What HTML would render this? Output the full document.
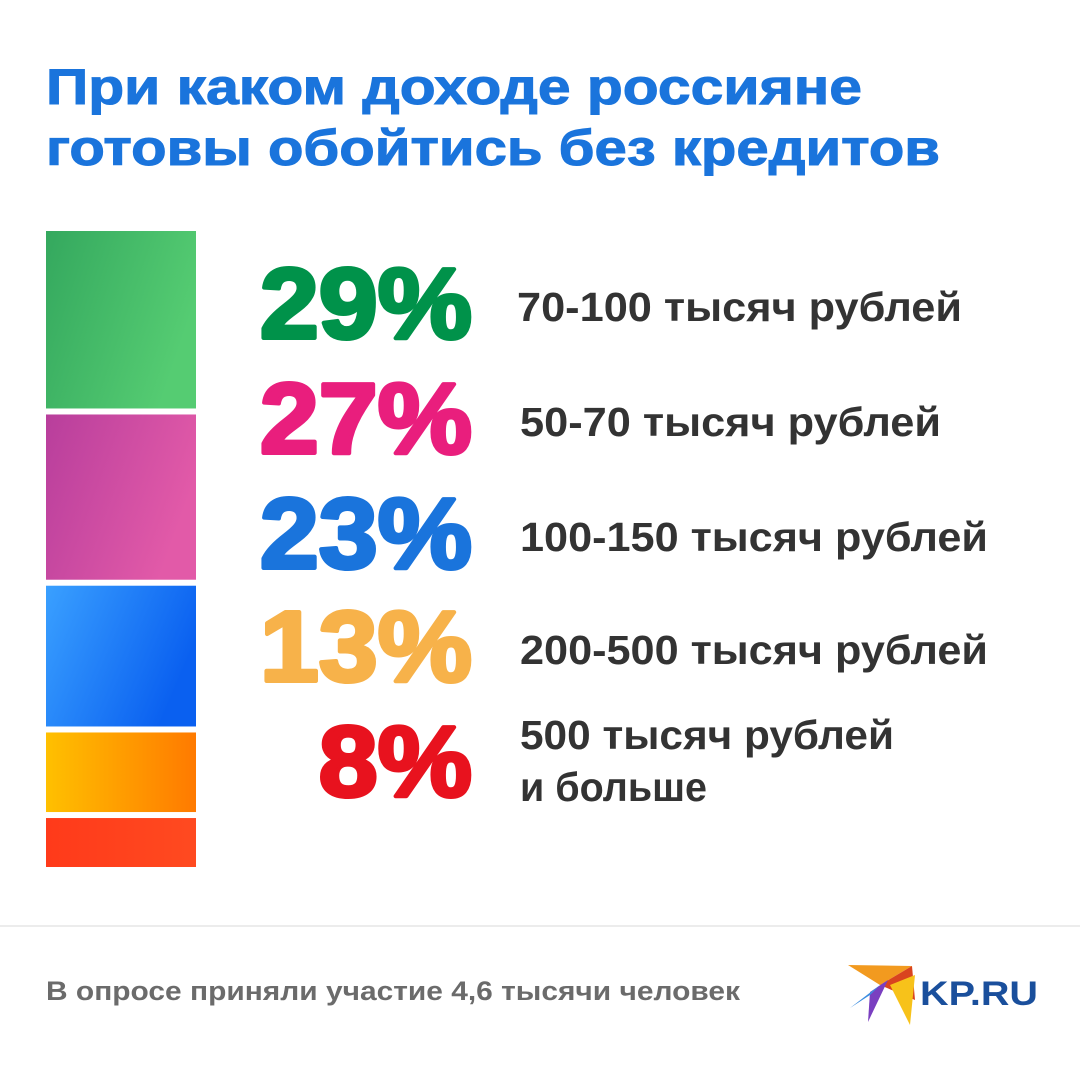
<!DOCTYPE html>
<html><head><meta charset="utf-8"><style>
html,body{margin:0;padding:0;background:#fff;}
body{width:1080px;height:1060px;overflow:hidden;font-family:"Liberation Sans",sans-serif;}
</style></head><body>
<svg id="chart" width="1080" height="1060" viewBox="0 0 1080 1060" xmlns="http://www.w3.org/2000/svg">
<defs>
<linearGradient id="g0" x1="0" y1="0" x2="1" y2="0.4"><stop offset="0" stop-color="#34a85e"/><stop offset="1" stop-color="#55cc72"/></linearGradient>
<linearGradient id="g1" x1="0" y1="0" x2="1" y2="0.4"><stop offset="0" stop-color="#b83e9c"/><stop offset="1" stop-color="#e25aa8"/></linearGradient>
<linearGradient id="g2" x1="0" y1="0" x2="1" y2="0.4"><stop offset="0" stop-color="#3aa0ff"/><stop offset="1" stop-color="#0a60f0"/></linearGradient>
<linearGradient id="g3" x1="0" y1="0" x2="1" y2="0"><stop offset="0" stop-color="#ffc000"/><stop offset="1" stop-color="#ff7a00"/></linearGradient>
<linearGradient id="g4" x1="0" y1="0" x2="1" y2="0"><stop offset="0" stop-color="#ff3a1a"/><stop offset="1" stop-color="#ff4a20"/></linearGradient>
</defs>
<g font-family="Liberation Sans, sans-serif" font-weight="bold" font-size="50" fill="#1a74dc" stroke="#1a74dc" stroke-width="1">
<text x="46" y="104" textLength="816" lengthAdjust="spacingAndGlyphs">При каком доходе россияне</text>
<text x="46" y="165" textLength="894" lengthAdjust="spacingAndGlyphs">готовы обойтись без кредитов</text>
</g>
<g id="bars"></g>
<g id="labels"></g>
<line x1="0" y1="926" x2="1080" y2="926" stroke="#ececec" stroke-width="2"/>
<text x="46" y="1000" font-family="Liberation Sans, sans-serif" font-weight="bold" font-size="27" fill="#6b6b6b" textLength="694" lengthAdjust="spacingAndGlyphs">В опросе приняли участие 4,6 тысячи человек</text>
<g>
<polygon points="848,965 912,966 880,985" fill="#f29a1f"/>
<polygon points="880,985 912,966 915,1000" fill="#d9431f"/>
<polygon points="870,992 888,980 868,1022" fill="#7a3fc0"/>
<polygon points="850,1008 880,985 870,995" fill="#3b8de0"/>
<polygon points="890,985 915,975 910,1025" fill="#f7c21a"/>
<text x="920" y="1005" font-family="Liberation Sans, sans-serif" font-weight="bold" font-size="34" fill="#1a4f9c" textLength="118" lengthAdjust="spacingAndGlyphs">KP.RU</text>
</g>
</svg>
<script>
const categories = ["70-100 тысяч рублей","50-70 тысяч рублей","100-150 тысяч рублей","200-500 тысяч рублей","500 тысяч рублей|и больше"];
const values = [29,27,23,13,8];
const valueLabels = ["29%","27%","23%","13%","8%"];
const colors = ["#00924a","#e91e7d","#1a74dc","#f7b24a","#e8121e"];
const NS="http://www.w3.org/2000/svg";
const top0=231, gap=6, pxPer=6.12, barX=46, barW=150;
function yScale(v){return v*pxPer;}
const bars=document.getElementById('bars'), labels=document.getElementById('labels');
let y=top0;
values.forEach((v,i)=>{
  const h=yScale(v);
  const r=document.createElementNS(NS,'rect');
  r.setAttribute('x',barX);r.setAttribute('y',y);r.setAttribute('width',barW);r.setAttribute('height',h);
  r.setAttribute('fill','url(#g'+i+')');
  
  
  bars.appendChild(r);
  y+=h+gap;
});
const labelBase=[338,453,568,681,796];
const charW=23.4;
values.forEach((v,i)=>{
  const t=document.createElementNS(NS,'text');
  t.setAttribute('x',472);t.setAttribute('y',labelBase[i]);
  t.setAttribute('text-anchor','end');t.setAttribute('font-size','100');t.setAttribute('font-weight','bold');
  t.setAttribute('font-family','Liberation Sans, sans-serif');t.setAttribute('fill',colors[i]);
  t.setAttribute('stroke',colors[i]);t.setAttribute('stroke-width','4');t.setAttribute('stroke-linejoin','round');
  t.setAttribute('transform','translate('+(472*-0.06)+',0) scale(1.06,1)');
  t.textContent=valueLabels[i];
  
  
  labels.appendChild(t);
  const parts=categories[i].split('|');
  parts.forEach((p,j)=>{
    const c=document.createElementNS(NS,'text');
    const base = parts.length>1 ? 749+j*52 : labelBase[i]-17;
    c.setAttribute('x', i==0?517:520);c.setAttribute('y',base);
    c.setAttribute('font-size','41');c.setAttribute('font-weight','bold');
    c.setAttribute('font-family','Liberation Sans, sans-serif');c.setAttribute('fill','#333');
    c.setAttribute('textLength', Math.round(p.length*charW));
    c.setAttribute('lengthAdjust','spacingAndGlyphs');
    c.textContent=p;
    
    
    labels.appendChild(c);
  });
});
</script>
</body></html>
